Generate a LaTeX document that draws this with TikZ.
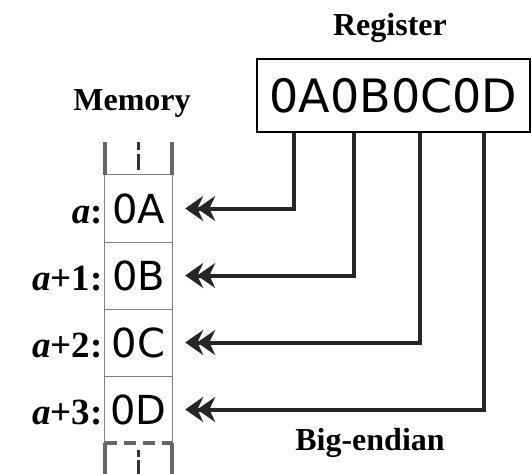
\documentclass[tikz,border=0pt]{standalone}
\usepackage{fontspec}
\setmainfont{Liberation Serif}
\newfontfamily\hexfont{DejaVu Sans}
\usetikzlibrary{arrows.meta}

\tikzset{
  heading/.style={font=\fontsize{32}{36}\selectfont\bfseries},
  cell/.style={minimum width=67pt, minimum height=67pt, inner sep=0pt, font=\hexfont\fontsize{40}{44}\selectfont},
  addr/.style={anchor=base east, inner sep=0pt, font=\fontsize{37}{40}\selectfont\bfseries},
  wall/.style={line width=1.2pt, draw=gray},
  rail/.style={line width=4pt, draw=gray!80!black},
  dots/.style={line width=3pt, draw=black!80},
  lead/.style={line width=4pt, draw=black!85, -{Stealth[length=18pt,width=25pt,sep=-6pt]Stealth[length=18pt,width=25pt]}},
}

\begin{document}
\begin{tikzpicture}[x=1pt, y=-1pt]
                \useasboundingbox (0,0) rectangle (531,474);

                \node[draw, line width=1.5pt, minimum width=273pt, minimum height=73pt, font=\hexfont\fontsize{46}{50}\selectfont] (reg) at (393.5,95.5) {0A0B0C0D};

                \node[heading] (regtitle) at (390,28) {Register};

                \node[heading] (memtitle) at (132,103) {Memory};

                \node[heading] (endian) at (370,443) {Big-endian};

                \foreach \i/\v/\a in {1/0A/\textit{a}:, 2/0B/\textit{a}+1:, 3/0C/\textit{a}+2:, 4/0D/\textit{a}+3:} {
                    \node[cell] (c\i) at (138.5, 141.5+67*\i) {\v};
                    \node[addr] (l\i) at ([xshift=-2pt]c\i.base west) {\a};
                }

                \draw[wall] (c4.south west) -- (c1.north west) -- (c1.north east) -- (c4.south east);

                \foreach \i in {1,2,3}
                    \draw[wall] (c\i.south west) -- (c\i.south east);

                \draw[rail, dash pattern=on 12pt off 7pt] (c4.south west) -- (c4.south east);

                \draw[rail] (c1.north west) -- ++(0,-33);

                \draw[rail] (c1.north east) -- ++(0,-33);

                \draw[rail] (c4.south west) -- ++(0,32);

                \draw[rail] (c4.south east) -- ++(0,32);

                \draw[dots, dash pattern=on 8pt off 4pt on 16pt off 20pt] (c1.north) ++(0,-33) -- ++(0,28);

                \draw[dots, dash pattern=on 7pt off 3pt on 20pt] (c4.south) ++(0,7) -- ++(0,25);

                \foreach \i/\dx in {1/38, 2/98, 3/164, 4/228}
                    \draw[lead] ([xshift=\dx pt]reg.south west) |- ([xshift=13pt]c\i.east);
            \end{tikzpicture}
\end{document}
